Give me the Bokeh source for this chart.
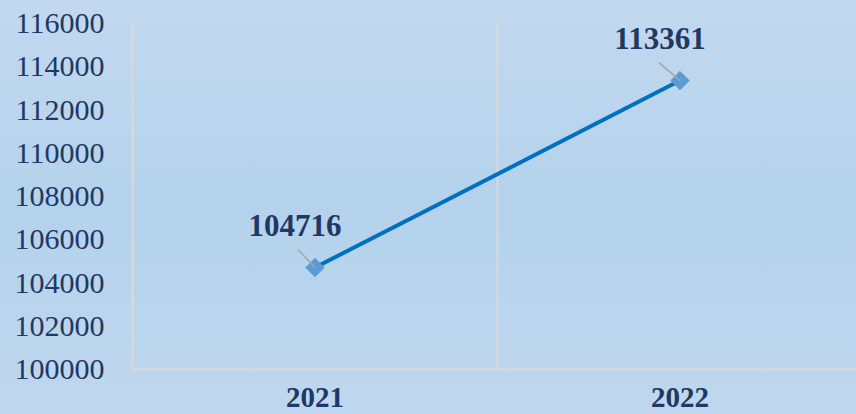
from bokeh.plotting import figure
from bokeh.models import (Range1d, FixedTicker, ColumnDataSource, LabelSet,
                          GlobalInlineStyleSheet, BasicTickFormatter)
from bokeh.embed import file_html
from bokeh.resources import INLINE
import math

# ---- data ----
years = ["2021", "2022"]
values = [104716, 113361]
y_ticks = list(range(100000, 116001, 2000))
y_min, y_max = 100000, 116000

# ---- layout ----
W, H = 856, 414
LEFT, TOP, BOTTOM = 132, 23, 45
frame_w = W - LEFT
frame_h = H - TOP - BOTTOM
CAT_PX = 365
x_end = frame_w / CAT_PX

NAVY = "#1F3864"
SERIF = "Liberation Serif"

xs = [i + 0.5 for i in range(len(years))]

p = figure(width=W, height=H, output_backend="svg", toolbar_location=None,
           x_range=Range1d(0, x_end), y_range=Range1d(y_min, y_max),
           min_border_left=LEFT, min_border_right=0, min_border_top=TOP,
           min_border_bottom=BOTTOM)
p.outline_line_color = None
p.background_fill_alpha = 0
p.border_fill_alpha = 0
p.stylesheets = [GlobalInlineStyleSheet(css=
    "html{height:100%;background:linear-gradient(#c2d9ef 0%,#b4d2ec 50%,#bfd7ee 100%);}"
    "body{background:transparent;}")]

# axes
p.yaxis.ticker = FixedTicker(ticks=y_ticks)
p.yaxis.formatter = BasicTickFormatter(use_scientific=False)
p.yaxis.major_tick_line_color = None
p.yaxis.minor_tick_line_color = None
p.yaxis.major_tick_out = 0
p.yaxis.major_label_standoff = 28
p.yaxis.major_label_text_font = SERIF
p.yaxis.major_label_text_font_size = "30px"
p.yaxis.major_label_text_color = NAVY
p.yaxis.axis_line_color = "#D9D9D9"
p.yaxis.axis_line_width = 2

p.xaxis.ticker = FixedTicker(ticks=xs)
p.xaxis.major_label_overrides = {x: y for x, y in zip(xs, years)}
p.xaxis.major_tick_line_color = None
p.xaxis.minor_tick_line_color = None
p.xaxis.major_tick_out = 0
p.xaxis.major_label_standoff = 18
p.xaxis.major_label_text_font = SERIF
p.xaxis.major_label_text_font_size = "29px"
p.xaxis.major_label_text_font_style = "bold"
p.xaxis.major_label_text_color = NAVY
p.xaxis.major_label_text_line_height = 0.7
p.xaxis.axis_line_color = "#D9D9D9"
p.xaxis.axis_line_width = 2

p.ygrid.grid_line_color = None
p.xgrid.ticker = FixedTicker(ticks=[i for i in range(1, len(years))])
p.xgrid.grid_line_color = "#D9D9D9"
p.xgrid.grid_line_width = 2

# series
src = ColumnDataSource(dict(x=xs, y=values, label=[str(v) for v in values]))
p.line("x", "y", source=src, line_color="#0070C0", line_width=4)
p.scatter("x", "y", source=src, marker="square", size=13, angle=math.pi / 4,
          fill_color="#5B9BD5", line_color="#5B9BD5")

# leader lines (pixel offsets converted to data units)
px_x = frame_w / x_end
px_y = frame_h / (y_max - y_min)
lead_dx = [-17, -21]
lead_dy = [18, 18]
p.segment(x0=[x + dx / px_x for x, dx in zip(xs, lead_dx)],
          y0=[v + dy / px_y for v, dy in zip(values, lead_dy)],
          x1=xs, y1=values, line_color="#A6A6A6", line_width=1.5)

labels = LabelSet(x="x", y="y", text="label", source=src, x_offset=-20,
                  y_offset=42, text_align="center", text_baseline="middle",
                  text_font=SERIF, text_font_size="31px", text_font_style="bold",
                  text_color=NAVY)
p.add_layout(labels)

open("out.html", "w").write(file_html(p, INLINE))
